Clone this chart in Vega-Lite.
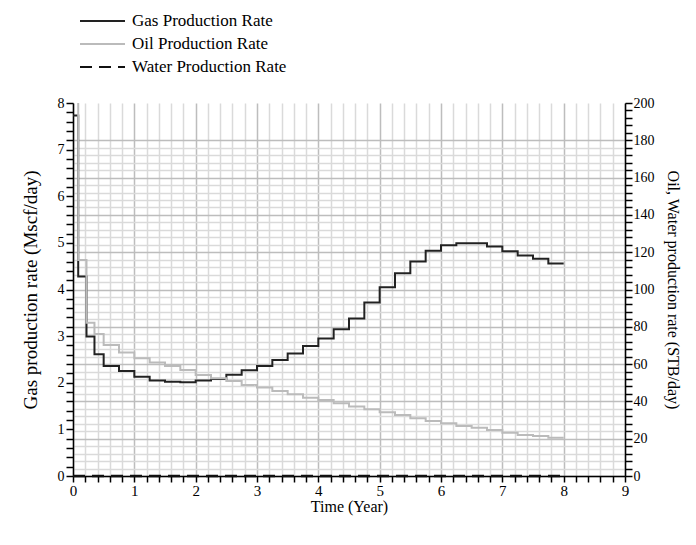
{
  "$schema": "https://vega.github.io/schema/vega-lite/v6.json",
  "width": 552,
  "height": 373,
  "autosize": {"type": "none"},
  "padding": {"left": 73, "top": 103, "right": 71, "bottom": 69},
  "background": "white",
  "config": {
    "view": {"stroke": null},
    "font": "Liberation Serif",
    "axis": {
      "labelFont": "Liberation Serif",
      "titleFont": "Liberation Serif",
      "labelColor": "#000",
      "titleColor": "#000",
      "domainColor": "#000",
      "domainWidth": 1.5,
      "tickColor": "#000",
      "tickWidth": 1.5,
      "tickSize": 7,
      "labelFontSize": 14,
      "titleFontSize": 16,
      "titleFontWeight": "normal",
      "labelOverlap": false,
      "labelFlush": false,
      "labelBound": false
    },
    "legend": {
      "labelFont": "Liberation Serif",
      "labelFontSize": 17,
      "labelColor": "#000"
    }
  },
  "datasets": {
    "rates": [
      {"series": "Gas Production Rate", "t": 0, "v": 7.73},
      {"series": "Gas Production Rate", "t": 0.085, "v": 4.28},
      {"series": "Gas Production Rate", "t": 0.22, "v": 2.99},
      {"series": "Gas Production Rate", "t": 0.35, "v": 2.61},
      {"series": "Gas Production Rate", "t": 0.5, "v": 2.36},
      {"series": "Gas Production Rate", "t": 0.75, "v": 2.25},
      {"series": "Gas Production Rate", "t": 1.0, "v": 2.13},
      {"series": "Gas Production Rate", "t": 1.25, "v": 2.05},
      {"series": "Gas Production Rate", "t": 1.5, "v": 2.02},
      {"series": "Gas Production Rate", "t": 1.75, "v": 2.01},
      {"series": "Gas Production Rate", "t": 2.0, "v": 2.05},
      {"series": "Gas Production Rate", "t": 2.25, "v": 2.08},
      {"series": "Gas Production Rate", "t": 2.5, "v": 2.17},
      {"series": "Gas Production Rate", "t": 2.75, "v": 2.27},
      {"series": "Gas Production Rate", "t": 3.0, "v": 2.36},
      {"series": "Gas Production Rate", "t": 3.25, "v": 2.49},
      {"series": "Gas Production Rate", "t": 3.5, "v": 2.63},
      {"series": "Gas Production Rate", "t": 3.75, "v": 2.79},
      {"series": "Gas Production Rate", "t": 4.0, "v": 2.95},
      {"series": "Gas Production Rate", "t": 4.25, "v": 3.15},
      {"series": "Gas Production Rate", "t": 4.5, "v": 3.38},
      {"series": "Gas Production Rate", "t": 4.75, "v": 3.72},
      {"series": "Gas Production Rate", "t": 5.0, "v": 4.05},
      {"series": "Gas Production Rate", "t": 5.25, "v": 4.35},
      {"series": "Gas Production Rate", "t": 5.5, "v": 4.6},
      {"series": "Gas Production Rate", "t": 5.75, "v": 4.83},
      {"series": "Gas Production Rate", "t": 6.0, "v": 4.95},
      {"series": "Gas Production Rate", "t": 6.25, "v": 4.99},
      {"series": "Gas Production Rate", "t": 6.5, "v": 4.99},
      {"series": "Gas Production Rate", "t": 6.75, "v": 4.92},
      {"series": "Gas Production Rate", "t": 7.0, "v": 4.82},
      {"series": "Gas Production Rate", "t": 7.25, "v": 4.73},
      {"series": "Gas Production Rate", "t": 7.5, "v": 4.66},
      {"series": "Gas Production Rate", "t": 7.75, "v": 4.56},
      {"series": "Gas Production Rate", "t": 8.0, "v": 4.56},
      {"series": "Oil Production Rate", "t": 0, "v": 240},
      {"series": "Oil Production Rate", "t": 0.085, "v": 115.8},
      {"series": "Oil Production Rate", "t": 0.22, "v": 82.2},
      {"series": "Oil Production Rate", "t": 0.35, "v": 76.2},
      {"series": "Oil Production Rate", "t": 0.5, "v": 70.3},
      {"series": "Oil Production Rate", "t": 0.75, "v": 66.2},
      {"series": "Oil Production Rate", "t": 1.0, "v": 63.1},
      {"series": "Oil Production Rate", "t": 1.25, "v": 60.8},
      {"series": "Oil Production Rate", "t": 1.5, "v": 59.0},
      {"series": "Oil Production Rate", "t": 1.75, "v": 56.9},
      {"series": "Oil Production Rate", "t": 2.0, "v": 54.2},
      {"series": "Oil Production Rate", "t": 2.25, "v": 52.4},
      {"series": "Oil Production Rate", "t": 2.5, "v": 51.0},
      {"series": "Oil Production Rate", "t": 2.75, "v": 48.8},
      {"series": "Oil Production Rate", "t": 3.0, "v": 47.4},
      {"series": "Oil Production Rate", "t": 3.25, "v": 45.6},
      {"series": "Oil Production Rate", "t": 3.5, "v": 43.8},
      {"series": "Oil Production Rate", "t": 3.75, "v": 42.0},
      {"series": "Oil Production Rate", "t": 4.0, "v": 40.8},
      {"series": "Oil Production Rate", "t": 4.25, "v": 39.0},
      {"series": "Oil Production Rate", "t": 4.5, "v": 37.2},
      {"series": "Oil Production Rate", "t": 4.75, "v": 35.8},
      {"series": "Oil Production Rate", "t": 5.0, "v": 34.2},
      {"series": "Oil Production Rate", "t": 5.25, "v": 32.7},
      {"series": "Oil Production Rate", "t": 5.5, "v": 31.0},
      {"series": "Oil Production Rate", "t": 5.75, "v": 29.5},
      {"series": "Oil Production Rate", "t": 6.0, "v": 28.3},
      {"series": "Oil Production Rate", "t": 6.25, "v": 26.8},
      {"series": "Oil Production Rate", "t": 6.5, "v": 25.9},
      {"series": "Oil Production Rate", "t": 6.75, "v": 24.7},
      {"series": "Oil Production Rate", "t": 7.0, "v": 23.2},
      {"series": "Oil Production Rate", "t": 7.25, "v": 22.0},
      {"series": "Oil Production Rate", "t": 7.5, "v": 21.5},
      {"series": "Oil Production Rate", "t": 7.75, "v": 20.5},
      {"series": "Oil Production Rate", "t": 8.0, "v": 20.5},
      {"series": "Water Production Rate", "t": 0, "v": 0},
      {"series": "Water Production Rate", "t": 8.0, "v": 0}
    ]
  },
  "data": {"name": "rates"},
  "encoding": {
    "x": {
      "field": "t", "type": "quantitative",
      "scale": {"domain": [0, 9], "nice": false},
      "axis": {
        "title": "Time (Year)",
        "values": [0,0.2,0.4,0.6,0.8,1,1.2,1.4,1.6,1.8,2,2.2,2.4,2.6,2.8,3,3.2,3.4,3.6,3.8,4,4.2,4.4,4.6,4.8,5,5.2,5.4,5.6,5.8,6,6.2,6.4,6.6,6.8,7,7.2,7.4,7.6,7.8,8,8.2,8.4,8.6,8.8,9],
        "labelExpr": "abs(round(datum.value) - datum.value) < 0.01 ? format(datum.value, 'd') : ''",
        "grid": true,
        "gridColor": {"condition": {"test": "abs(round(datum.value) - datum.value) < 0.01", "value": "#bdbdbd"}, "value": "#dadada"},
        "gridWidth": 1.5,
        "tickSize": 6,
        "labelFontSize": 15,
        "labelPadding": 1,
        "titlePadding": 0
      }
    },
    "color": {
      "field": "series", "type": "nominal",
      "scale": {"domain": ["Gas Production Rate", "Oil Production Rate", "Water Production Rate"], "range": ["#222222", "#bbbbbb", "#111111"]},
      "legend": {
        "title": null,
        "orient": "none",
        "legendX": 6,
        "legendY": -90,
        "symbolType": "stroke",
        "symbolSize": 2025,
        "symbolStrokeWidth": 2,
        "labelOffset": 6,
        "clipHeight": 16,
        "rowPadding": 6,
        "padding": 0
      }
    },
    "strokeDash": {
      "field": "series", "type": "nominal",
      "scale": {"domain": ["Gas Production Rate", "Oil Production Rate", "Water Production Rate"], "range": [[1, 0], [1, 0], [12, 7]]},
      "legend": null
    }
  },
  "layer": [
    {
      "transform": [{"filter": "datum.series === 'Gas Production Rate'"}],
      "mark": {"type": "line", "interpolate": "step-after", "strokeWidth": 2, "clip": true},
      "encoding": {
        "y": {
          "field": "v", "type": "quantitative",
          "scale": {"domain": [0, 8], "nice": false},
          "axis": {
            "orient": "left",
            "title": "Gas production rate (Mscf/day)",
            "titleFontSize": 19,
            "values": [0,0.2,0.4,0.6,0.8,1,1.2,1.4,1.6,1.8,2,2.2,2.4,2.6,2.8,3,3.2,3.4,3.6,3.8,4,4.2,4.4,4.6,4.8,5,5.2,5.4,5.6,5.8,6,6.2,6.4,6.6,6.8,7,7.2,7.4,7.6,7.8,8],
            "labelExpr": "abs(round(datum.value) - datum.value) < 0.01 ? format(datum.value, 'd') : ''",
            "grid": false,
            "labelPadding": 2,
            "titlePadding": 17
          }
        }
      }
    },
    {
      "transform": [{"filter": "datum.series !== 'Gas Production Rate'"}],
      "encoding": {
        "y": {
          "field": "v", "type": "quantitative",
          "scale": {"domain": [0, 200], "nice": false},
          "axis": {
            "orient": "right",
            "title": "Oil, Water production rate (STB/day)",
            "values": [0,4,8,12,16,20,24,28,32,36,40,44,48,52,56,60,64,68,72,76,80,84,88,92,96,100,104,108,112,116,120,124,128,132,136,140,144,148,152,156,160,164,168,172,176,180,184,188,192,196,200],
            "labelExpr": "datum.value % 20 === 0 ? format(datum.value, 'd') : ''",
            "grid": true,
            "gridColor": {"condition": {"test": "datum.value % 20 === 0", "value": "#bdbdbd"}, "value": "#dadada"},
            "gridOpacity": {"condition": {"test": "datum.value > 180", "value": 0}, "value": 1},
            "gridWidth": 1.5,
            "labelPadding": 1,
            "titlePadding": 10
          }
        }
      },
      "layer": [
        {
          "transform": [{"filter": "datum.series === 'Oil Production Rate'"}],
          "mark": {"type": "line", "interpolate": "step-after", "strokeWidth": 2, "clip": true}
        },
        {
          "transform": [{"filter": "datum.series === 'Water Production Rate'"}],
          "mark": {"type": "line", "strokeWidth": 2.5, "clip": false}
        }
      ]
    }
  ],
  "resolve": {"scale": {"y": "independent"}}
}
